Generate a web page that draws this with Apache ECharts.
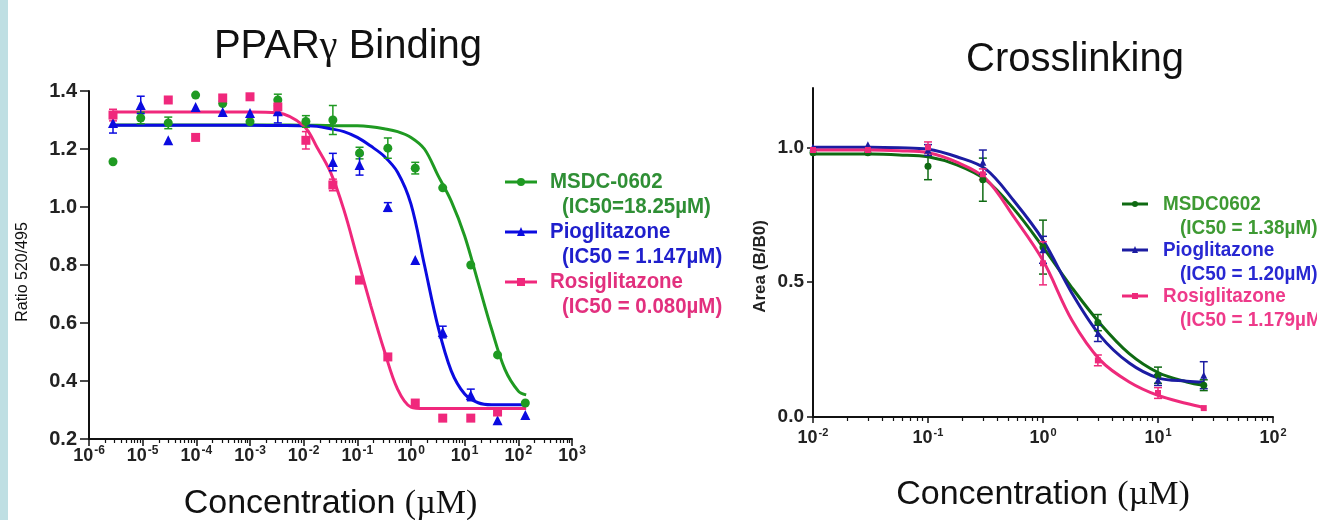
<!DOCTYPE html>
<html>
<head>
<meta charset="utf-8">
<script src="https://cdn.jsdelivr.net/npm/echarts@6/dist/echarts.min.js"></script>
<style>
  html, body { margin: 0; padding: 0; background: #fff; }
  #main { width: 1317px; height: 520px; }
</style>
</head>
<body>
<div id="main"></div>
<script>
// PPARγ binding (left) + crosslinking (right) dose-response panels

// ---- left panel: PPARγ binding, ratio 520/495 ----
const bindConc = [2.8e-6, 9.2e-6, 3.0e-5, 9.7e-5, 3.1e-4, 1.0e-3, 3.3e-3, 0.011, 0.035, 0.11, 0.37, 1.2, 3.9, 13, 41, 135];
const bindMsdc = [1.156, 1.307, 1.29, 1.386, 1.357, 1.294, 1.369, 1.295, 1.30, 1.186, 1.203, 1.134, 1.066, 0.80, 0.49, 0.324];
const bindPio  = [1.29, 1.352, 1.23, 1.345, 1.328, 1.324, 1.33, null, 1.155, 1.145, 1.0, 0.817, 0.569, 0.352, 0.265, 0.283];
const bindRosi = [1.317, null, 1.369, 1.24, 1.376, 1.38, 1.345, 1.23, 1.076, 0.748, 0.483, 0.324, 0.272, 0.272, 0.293, null];
const bindMsdcErr = [null, 0.02, 0.02, null, null, null, 0.02, 0.02, 0.05, 0.02, 0.035, 0.02, null, null, null, null];
const bindPioErr  = [0.035, 0.03, null, null, null, null, 0.04, null, 0.03, 0.035, 0.015, null, 0.02, 0.02, null, null];
const bindRosiErr = [0.02, null, null, null, null, null, null, 0.03, 0.02, null, null, null, null, null, null, null];

// fitted curves at quarter-decade steps
const bindFitX    = [2.8e-6, 1e-4, 1e-3, 0.00316, 0.01, 0.0178, 0.0316, 0.0562, 0.1, 0.178, 0.316, 0.562, 1, 1.78, 3.16, 5.62, 10, 17.8, 31.6, 56.2, 100, 140];
const bindFitMsdc = [1.283, 1.283, 1.283, 1.283, 1.282, 1.282, 1.281, 1.28, 1.28, 1.277, 1.27, 1.26, 1.24, 1.20, 1.11, 1.02, 0.90, 0.74, 0.58, 0.44, 0.365, 0.352];
const bindFitPio  = [1.282, 1.282, 1.282, 1.281, 1.28, 1.278, 1.27, 1.26, 1.24, 1.21, 1.175, 1.12, 1.01, 0.80, 0.59, 0.435, 0.355, 0.325, 0.318, 0.318, 0.318, 0.318];
const bindFitRosi = [1.328, 1.328, 1.328, 1.325, 1.28, 1.205, 1.12, 0.99, 0.825, 0.66, 0.506, 0.372, 0.31, 0.305, 0.305, 0.305, 0.305, 0.305, 0.305, 0.305, 0.305, 0.305];

const bindTicks = [1e-6, 1e-5, 1e-4, 1e-3, 1e-2, 1e-1, 1, 10, 100, 1000];
const bindYTicks = [0.2, 0.4, 0.6, 0.8, 1.0, 1.2, 1.4];

// ---- right panel: crosslinking, area (B/B0) ----
const xlinkConc = [0.01, 0.03, 0.1, 0.3, 1, 3, 10, 25];
const xlinkMsdc = [0.98, 0.98, 0.93, 0.88, 0.63, 0.35, 0.155, 0.118];
const xlinkPio  = [1.0, 1.01, 0.99, 0.945, 0.62, 0.31, 0.137, 0.155];
const xlinkRosi = [0.99, 0.99, 1.0, 0.90, 0.57, 0.21, 0.089, 0.033];
const xlinkMsdcErr = [null, null, 0.05, 0.08, 0.1, 0.03, 0.03, 0.02];
const xlinkPioErr  = [null, null, 0.02, 0.045, 0.05, 0.03, 0.02, 0.05];
const xlinkRosiErr = [null, null, 0.02, 0.02, 0.08, 0.02, 0.02, null];

const xlinkFitX    = [0.01, 0.0178, 0.0316, 0.0562, 0.1, 0.178, 0.316, 0.562, 1, 1.78, 3.16, 5.62, 10, 17.8, 25];
const xlinkFitMsdc = [0.975, 0.975, 0.975, 0.972, 0.965, 0.935, 0.88, 0.77, 0.63, 0.48, 0.345, 0.235, 0.165, 0.13, 0.118];
const xlinkFitPio  = [1.0, 1.0, 1.0, 0.998, 0.993, 0.965, 0.92, 0.80, 0.656, 0.46, 0.30, 0.20, 0.145, 0.133, 0.13];
const xlinkFitRosi = [0.99, 0.99, 0.99, 0.987, 0.98, 0.945, 0.885, 0.74, 0.58, 0.36, 0.21, 0.13, 0.08, 0.05, 0.035];

const xlinkTicks = [0.01, 0.1, 1, 10, 100];
const xlinkYTicks = [0, 0.5, 1.0];

// legends
const legLeftNames = ['MSDC-0602', 'Pioglitazone', 'Rosiglitazone'];
const legLeftIc50 = ['(IC50=18.25µM)', '(IC50 = 1.147µM)', '(IC50 = 0.080µM)'];
const legRightNames = ['MSDC0602', 'Pioglitazone', 'Rosiglitazone'];
const legRightIc50 = ['(IC50 = 1.38µM)', '(IC50 = 1.20µM)', '(IC50 = 1.179µM)'];

const SANS = "'Liberation Sans', Arial, sans-serif";
const NARROW = "'Liberation Sans Narrow', 'Arial Narrow', 'Liberation Sans', sans-serif";
const SERIF = "'Liberation Serif', 'Times New Roman', serif";

const COLORS = {
  msdcL: '#1f9a22', pioL: '#0b0be0', rosiL: '#f0287c',
  msdcR: '#0f6a12', pioR: '#1c1ca2', rosiR: '#ee2a7b',
  txtMsdcL: '#2f8f35', txtPioL: '#1f1fcc', txtRosiL: '#e2307e',
  txtMsdcR: '#3e9a33', txtPioR: '#2828d2', txtRosiR: '#ee3a8a',
  axis: '#111', label: '#222',
};

function minorTicks(lo, hi) {
  const out = [];
  for (let e = lo; e < hi; e++) {
    for (let m = 2; m <= 9; m++) out.push(+(m * Math.pow(10, e)).toPrecision(3));
  }
  return out;
}

function pairs(xs, ys) {
  const out = [];
  xs.forEach((x, i) => { if (ys[i] != null) out.push([x, ys[i]]); });
  return out;
}

function supLabel(size, supSize, family, weight) {
  return {
    formatter: v => `{b|10}{s|${Math.round(Math.log10(v))}}`,
    rich: {
      b: { fontSize: size, fontFamily: family, fontWeight: weight, color: COLORS.label, lineHeight: size + 4 },
      s: { fontSize: supSize, fontFamily: family, fontWeight: weight, color: COLORS.label,
           lineHeight: size + 4, verticalAlign: 'top', padding: [0, 0, 0, 1] },
    },
  };
}

function lineSeries(name, xi, xs, ys, color, width) {
  return {
    name, type: 'line', xAxisIndex: xi, yAxisIndex: xi,
    data: pairs(xs, ys), smooth: 0.35,
    symbol: 'none', lineStyle: { color, width }, z: 2, silent: true,
  };
}

function dotSeries(name, xi, xs, ys, color, symbol, size) {
  return {
    name, type: 'scatter', xAxisIndex: xi, yAxisIndex: xi,
    data: pairs(xs, ys), symbol, symbolSize: size,
    itemStyle: { color, opacity: 1 }, z: 4, silent: true,
  };
}

function errSeries(xi, xs, ys, errs, color) {
  const data = [];
  xs.forEach((x, i) => {
    if (ys[i] != null && errs[i] != null) data.push([x, ys[i] - errs[i], ys[i] + errs[i]]);
  });
  return {
    type: 'custom', xAxisIndex: xi, yAxisIndex: xi, silent: true, z: 3,
    encode: { x: 0, y: [1, 2] },
    data,
    renderItem(params, api) {
      const lo = api.coord([api.value(0), api.value(1)]);
      const hi = api.coord([api.value(0), api.value(2)]);
      const w = 4;
      const st = { stroke: color, lineWidth: 1.5 };
      return {
        type: 'group',
        children: [
          { type: 'line', shape: { x1: lo[0], y1: lo[1], x2: hi[0], y2: hi[1] }, style: st },
          { type: 'line', shape: { x1: lo[0] - w, y1: lo[1], x2: lo[0] + w, y2: lo[1] }, style: st },
          { type: 'line', shape: { x1: hi[0] - w, y1: hi[1], x2: hi[0] + w, y2: hi[1] }, style: st },
        ],
      };
    },
  };
}

function markerEl(symbol, cx, cy, r, color) {
  if (symbol === 'circle') return { type: 'circle', shape: { cx, cy, r }, style: { fill: color } };
  if (symbol === 'rect') return { type: 'rect', shape: { x: cx - r, y: cy - r, width: 2 * r, height: 2 * r }, style: { fill: color } };
  return { type: 'polygon', shape: { points: [[cx, cy - r - 1], [cx + r, cy + r], [cx - r, cy + r]] }, style: { fill: color } };
}

function legendEls(cfg) {
  const els = [];
  cfg.names.forEach((name, i) => {
    const y = cfg.top + i * cfg.step;
    const txt = (text, x, ty) => ({
      type: 'text', x, y: ty, scaleX: cfg.squeeze,
      style: { text, fill: cfg.textColors[i], fontSize: cfg.fontSize, fontFamily: cfg.font,
               fontWeight: cfg.weight, verticalAlign: 'middle' },
    });
    els.push({ type: 'line', shape: { x1: cfg.x, y1: y, x2: cfg.x + cfg.len, y2: y },
               style: { stroke: cfg.colors[i], lineWidth: cfg.lw } });
    els.push(markerEl(cfg.symbols[i], cfg.x + cfg.len / 2, y, cfg.r, cfg.colors[i]));
    els.push(txt(name, cfg.textX, y));
    els.push(txt(cfg.notes[i], cfg.noteX, y + cfg.gap));
  });
  return els;
}

const chart = echarts.init(document.getElementById('main'));

const xNameRich = {
  a: { fontSize: 34, fontFamily: SANS, color: '#111' },
  m: { fontSize: 34, fontFamily: SERIF, color: '#111' },
};

const leftX = {
  type: 'log', logBase: 10, gridIndex: 0, min: 1e-6, max: 1e3,
  name: '{a|Concentration }{m|(µM)}', nameLocation: 'middle', nameGap: 48,
  nameTextStyle: { rich: xNameRich },
  axisLine: { lineStyle: { color: COLORS.axis, width: 2 } },
  axisTick: { customValues: bindTicks, length: 7, lineStyle: { color: COLORS.axis, width: 1.5 } },
  axisLabel: Object.assign(supLabel(18, 12, SANS, 'bold'), { customValues: bindTicks, margin: 6 }),
  splitLine: { show: false },
};
const leftXMinor = {
  type: 'log', logBase: 10, gridIndex: 0, min: 1e-6, max: 1e3, position: 'bottom',
  axisLine: { show: false },
  axisTick: { customValues: minorTicks(-6, 3), length: 4, lineStyle: { color: COLORS.axis, width: 1.2 } },
  axisLabel: { show: false }, splitLine: { show: false },
};
const rightX = {
  type: 'log', logBase: 10, gridIndex: 1, min: 0.01, max: 100,
  name: '{a|Concentration }{m|(µM)}', nameLocation: 'middle', nameGap: 61,
  nameTextStyle: { rich: xNameRich },
  axisLine: { lineStyle: { color: COLORS.axis, width: 2 } },
  axisTick: { customValues: xlinkTicks, length: 6, lineStyle: { color: COLORS.axis, width: 1.5 } },
  axisLabel: Object.assign(supLabel(18, 11, NARROW, 'bold'), { customValues: xlinkTicks, margin: 10 }),
  splitLine: { show: false },
};
const rightXMinor = {
  type: 'log', logBase: 10, gridIndex: 1, min: 0.01, max: 100, position: 'bottom',
  axisLine: { show: false },
  axisTick: { customValues: minorTicks(-2, 2), length: 4, lineStyle: { color: COLORS.axis, width: 1.2 } },
  axisLabel: { show: false }, splitLine: { show: false },
};

chart.setOption({
  backgroundColor: '#fff',
  animation: false,
  grid: [
    { left: 89, top: 91, width: 483, height: 348, outerBoundsMode: 'none' },
    { left: 813, top: 88, width: 460, height: 329, outerBoundsMode: 'none' },
  ],
  xAxis: [leftX, rightX, leftXMinor, rightXMinor],
  yAxis: [
    {
      type: 'value', gridIndex: 0, min: 0.2, max: 1.4, interval: 0.2,
      name: 'Ratio 520/495', nameLocation: 'middle', nameGap: 58,
      nameTextStyle: { fontSize: 16, fontFamily: SANS, color: '#111', padding: [0, 14, 0, 0] },
      axisLine: { show: true, lineStyle: { color: COLORS.axis, width: 2 } },
      axisTick: { show: true, customValues: bindYTicks, length: 9, lineStyle: { color: COLORS.axis, width: 1.5 } },
      axisLabel: { customValues: bindYTicks, formatter: v => v.toFixed(1), fontSize: 20, fontWeight: 'bold',
                   fontFamily: SANS, color: COLORS.label, margin: 12 },
      splitLine: { show: false },
    },
    {
      type: 'value', gridIndex: 1, min: 0, max: 1.22,
      name: 'Area (B/B0)', nameLocation: 'middle', nameGap: 44,
      nameTextStyle: { fontSize: 17, fontFamily: NARROW, fontWeight: 'bold', color: '#222', padding: [0, 28, 0, 0] },
      axisLine: { show: true, lineStyle: { color: COLORS.axis, width: 2 } },
      axisTick: { show: true, customValues: xlinkYTicks, length: 6, lineStyle: { color: COLORS.axis, width: 1.5 } },
      axisLabel: { customValues: xlinkYTicks, formatter: v => v.toFixed(1), fontSize: 19, fontWeight: 'bold',
                   fontFamily: NARROW, color: COLORS.label, margin: 9 },
      splitLine: { show: false },
    },
  ],
  graphic: [
    { type: 'rect', shape: { x: 0, y: 0, width: 8, height: 520 }, style: { fill: '#bfdfe3' } },
    { type: 'text', x: 348, y: 47,
      style: { text: '{a|PPAR}{g|γ}{a| Binding}', align: 'center', verticalAlign: 'middle',
               rich: { a: { fontSize: 40, fontFamily: SANS, fill: '#111' }, g: { fontSize: 40, fontFamily: SERIF, fill: '#111' } } } },
    { type: 'text', x: 1075, y: 60,
      style: { text: 'Crosslinking', align: 'center', verticalAlign: 'middle', fontSize: 40, fontFamily: SANS, fill: '#111' } },
    ...legendEls({
      names: legLeftNames, notes: legLeftIc50, top: 182, step: 50, gap: 25,
      x: 505, len: 32, lw: 3, r: 4, textX: 550, noteX: 562,
      colors: [COLORS.msdcL, COLORS.pioL, COLORS.rosiL],
      textColors: [COLORS.txtMsdcL, COLORS.txtPioL, COLORS.txtRosiL],
      symbols: ['circle', 'triangle', 'rect'],
      fontSize: 22, font: NARROW, weight: 'bold', squeeze: 0.93,
    }),
    ...legendEls({
      names: legRightNames, notes: legRightIc50, top: 204, step: 46, gap: 24,
      x: 1122, len: 26, lw: 3, r: 3, textX: 1163, noteX: 1180,
      colors: [COLORS.msdcR, COLORS.pioR, COLORS.rosiR],
      textColors: [COLORS.txtMsdcR, COLORS.txtPioR, COLORS.txtRosiR],
      symbols: ['circle', 'triangle', 'rect'],
      fontSize: 21, font: NARROW, weight: 'bold', squeeze: 0.9,
    }),
  ],
  series: [
    // left panel
    lineSeries('MSDC-0602 fit', 0, bindFitX, bindFitMsdc, COLORS.msdcL, 3),
    lineSeries('Pioglitazone fit', 0, bindFitX, bindFitPio, COLORS.pioL, 3),
    lineSeries('Rosiglitazone fit', 0, bindFitX, bindFitRosi, COLORS.rosiL, 3),
    errSeries(0, bindConc, bindMsdc, bindMsdcErr, COLORS.msdcL),
    errSeries(0, bindConc, bindPio, bindPioErr, COLORS.pioL),
    errSeries(0, bindConc, bindRosi, bindRosiErr, COLORS.rosiL),
    dotSeries('MSDC-0602', 0, bindConc, bindMsdc, COLORS.msdcL, 'circle', 9),
    dotSeries('Pioglitazone', 0, bindConc, bindPio, COLORS.pioL, 'triangle', 10),
    dotSeries('Rosiglitazone', 0, bindConc, bindRosi, COLORS.rosiL, 'rect', 9),
    // right panel
    lineSeries('MSDC0602 fit', 1, xlinkFitX, xlinkFitMsdc, COLORS.msdcR, 3),
    lineSeries('Pioglitazone fit R', 1, xlinkFitX, xlinkFitPio, COLORS.pioR, 3),
    lineSeries('Rosiglitazone fit R', 1, xlinkFitX, xlinkFitRosi, COLORS.rosiR, 3),
    errSeries(1, xlinkConc, xlinkMsdc, xlinkMsdcErr, COLORS.msdcR),
    errSeries(1, xlinkConc, xlinkPio, xlinkPioErr, COLORS.pioR),
    errSeries(1, xlinkConc, xlinkRosi, xlinkRosiErr, COLORS.rosiR),
    dotSeries('MSDC0602', 1, xlinkConc, xlinkMsdc, COLORS.msdcR, 'circle', 7),
    dotSeries('Pioglitazone R', 1, xlinkConc, xlinkPio, COLORS.pioR, 'triangle', 7),
    dotSeries('Rosiglitazone R', 1, xlinkConc, xlinkRosi, COLORS.rosiR, 'rect', 6),
  ],
});
</script>
</body>
</html>
